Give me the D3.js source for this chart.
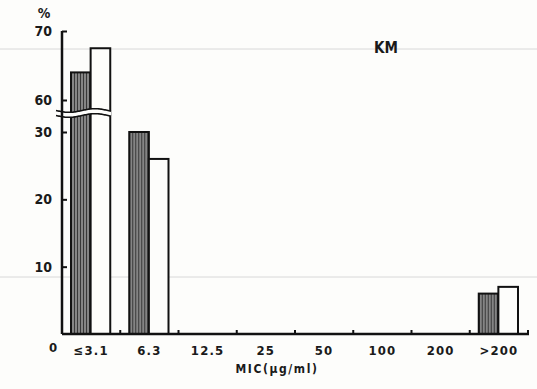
<!DOCTYPE html>
<html>
<head>
<meta charset="utf-8">
<script src="https://cdn.jsdelivr.net/npm/d3@7"></script>
<style>
  body { margin: 0; background: #fdfdfb; }
  svg { display: block; }
  text { font-family: "Liberation Sans Narrow", "DejaVu Sans Condensed", "Arial Narrow", sans-serif; font-weight: bold; fill: #1a1a1a; }
</style>
</head>
<body>
<script>
// MIC classes (ug/ml) and % of strains, two groups (hatched / open bars)
var categories = ["≤3.1", "6.3", "12.5", "25", "50", "100", "200", ">200"];
var hatchedValues = [64, 30, 0, 0, 0, 0, 0, 6];
var openValues = [67.5, 26, 0, 0, 0, 0, 0, 7];
var lowerTicks = [10, 20, 30];
var upperTicks = [60, 70];

var W = 537, H = 389;
var svg = d3.select("body").append("svg")
    .attr("width", W)
    .attr("height", H);

svg.append("rect").attr("width", W).attr("height", H).attr("fill", "#fdfdfb");

// faint show-through rules from the scanned page
svg.selectAll(".ghost")
    .data([49, 277])
  .enter().append("line")
    .attr("x1", 0).attr("x2", W)
    .attr("y1", function(d) { return d; }).attr("y2", function(d) { return d; })
    .attr("stroke", "#d8d8d8").attr("stroke-width", 1);

var defs = svg.append("defs");
var pat = defs.append("pattern")
    .attr("id", "hatch")
    .attr("patternUnits", "userSpaceOnUse")
    .attr("width", 3).attr("height", 4);
pat.append("rect").attr("width", 3).attr("height", 4).attr("fill", "#858585");
pat.append("line").attr("x1", 0.5).attr("x2", 0.5).attr("y1", 0).attr("y2", 4)
    .attr("stroke", "#383838").attr("stroke-width", 1);

var x0 = 62, x1 = 528, yBase = 334;

var x = d3.scaleBand()
    .domain(categories)
    .range([x0, x1])
    .padding(0);

var sub = d3.scaleBand()
    .domain(["hatched", "open"])
    .range([9, x.bandwidth() - 10])
    .padding(0);

// broken axis: 0-30 below the break, 60-70 above it
var yLow = d3.scaleLinear().domain([0, 30]).range([yBase, 132]);
var yHigh = d3.scaleLinear().domain([60, 70]).range([100, 31]);
function yPos(v) { return v > 45 ? yHigh(v) : yLow(v); }

var rows = categories.map(function(c, i) {
    return { cat: c, hatched: hatchedValues[i], open: openValues[i] };
});

var groups = svg.selectAll(".bar")
    .data(rows)
  .enter().append("g")
    .attr("class", "bar")
    .attr("transform", function(d) { return "translate(" + x(d.cat) + ",0)"; });

groups.selectAll("rect")
    .data(function(d) {
        return [{ key: "hatched", v: d.hatched }, { key: "open", v: d.open }]
            .filter(function(e) { return e.v > 0; });
    })
  .enter().append("rect")
    .attr("x", function(d) { return sub(d.key); })
    .attr("y", function(d) { return yPos(d.v); })
    .attr("width", sub.bandwidth())
    .attr("height", function(d) { return yBase - yPos(d.v); })
    .attr("fill", function(d) { return d.key === "hatched" ? "url(#hatch)" : "#fdfdfb"; })
    .attr("stroke", "#111")
    .attr("stroke-width", 2);

// break marks across the axis and the tall bars
var brk = d3.range(56, 112, 1);
function waveY(px, off) { return 113 + off + 1.8 * Math.sin((px - 56) / 52 * 2 * Math.PI); }
var area = brk.map(function(px) { return [px, waveY(px, -2.5)]; })
    .concat(brk.slice().reverse().map(function(px) { return [px, waveY(px, 2.5)]; }));
svg.append("path").attr("d", d3.line()(area) + "Z").attr("fill", "#fdfdfb");
[-2.5, 2.5].forEach(function(off) {
    svg.append("path")
        .attr("d", d3.line()(brk.map(function(px) { return [px, waveY(px, off)]; })))
        .attr("fill", "none").attr("stroke", "#111").attr("stroke-width", 1.6);
});

// y axis
svg.append("line")
    .attr("x1", x0).attr("x2", x0).attr("y1", 31).attr("y2", yBase)
    .attr("stroke", "#111").attr("stroke-width", 2.5);

[[yLow, lowerTicks], [yHigh, upperTicks]].forEach(function(s) {
    var g = svg.append("g")
        .attr("transform", "translate(" + x0 + ",0)")
        .call(d3.axisLeft(s[0]).tickValues(s[1]).tickSizeInner(-5).tickSizeOuter(0).tickPadding(10));
    g.select(".domain").remove();
    g.selectAll(".tick line").attr("stroke", "#111").attr("stroke-width", 2);
    g.selectAll(".tick text").attr("font-size", 14).attr("fill", "#1a1a1a");
});

svg.append("text")
    .attr("x", 44).attr("y", 18)
    .attr("text-anchor", "middle")
    .attr("font-size", 14)
    .text("%");

// x axis
svg.append("line")
    .attr("x1", x0).attr("x2", x1 + 1).attr("y1", yBase).attr("y2", yBase)
    .attr("stroke", "#111").attr("stroke-width", 2.5);

var gx = svg.append("g")
    .attr("transform", "translate(0," + yBase + ")")
    .call(d3.axisBottom(x).tickSize(0).tickPadding(12));
gx.select(".domain").remove();
gx.selectAll(".tick text")
    .attr("font-size", 13)
    .attr("letter-spacing", 1.2)
    .attr("fill", "#1a1a1a");

svg.selectAll(".xtick")
    .data(categories)
  .enter().append("line")
    .attr("x1", function(d) { return x(d) + x.bandwidth(); })
    .attr("x2", function(d) { return x(d) + x.bandwidth(); })
    .attr("y1", yBase).attr("y2", yBase - 4)
    .attr("stroke", "#111").attr("stroke-width", 2);

svg.append("text")
    .attr("x", 53).attr("y", 352)
    .attr("text-anchor", "middle")
    .attr("font-size", 13)
    .text("0");

svg.append("text")
    .attr("x", 277).attr("y", 373)
    .attr("text-anchor", "middle")
    .attr("font-size", 12)
    .attr("letter-spacing", 1.6)
    .text("MIC(μg/ml)");

svg.append("text")
    .attr("x", 386).attr("y", 53)
    .attr("text-anchor", "middle")
    .attr("font-size", 15)
    .text("KM");
</script>
</body>
</html>
